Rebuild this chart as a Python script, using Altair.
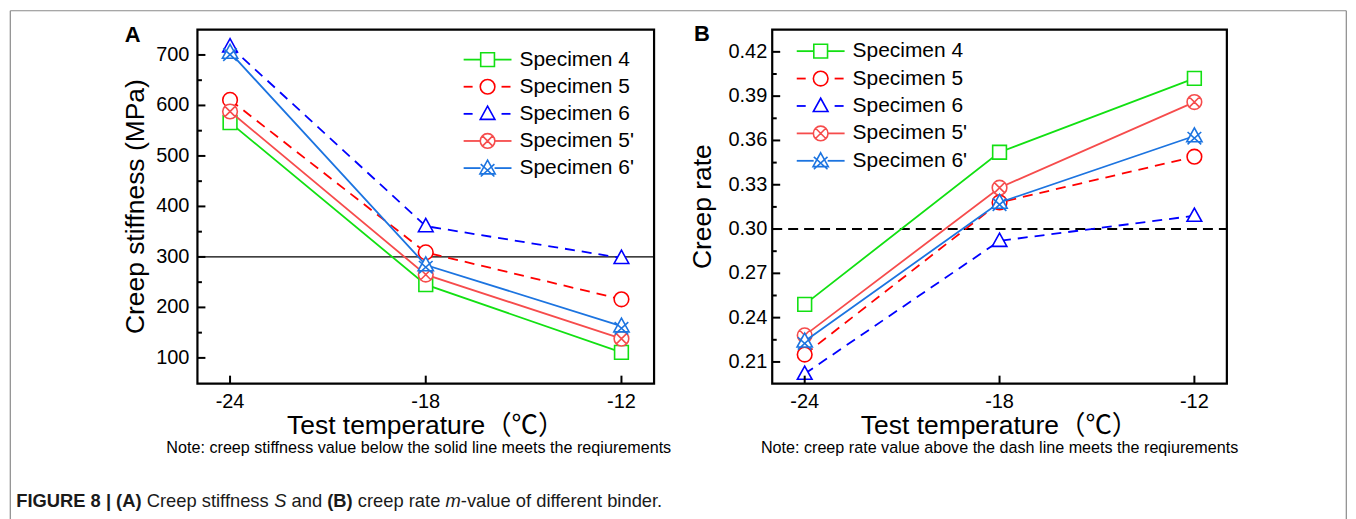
import altair as alt
import pandas as pd

# ---------------- data ----------------
temps = [-24, -18, -12]
series = ["Specimen 4", "Specimen 5", "Specimen 6", "Specimen 5'", "Specimen 6'"]

stiff_4 = [566, 245, 111]
stiff_5 = [611, 309, 216]
stiff_6 = [717, 361, 298]
stiff_5p = [588, 265, 138]
stiff_6p = [705, 284, 163]

rate_4 = [0.249, 0.352, 0.402]
rate_5 = [0.215, 0.318, 0.349]
rate_6 = [0.202, 0.292, 0.309]
rate_5p = [0.228, 0.328, 0.386]
rate_6p = [0.224, 0.318, 0.363]

stiff_ticks = [100, 200, 300, 400, 500, 600, 700]
stiff_labels = ["100", "200", "300", "400", "500", "600", "700"]
stiff_minor = [150, 250, 350, 450, 550, 650]
rate_ticks = [0.21, 0.24, 0.27, 0.30, 0.33, 0.36, 0.39, 0.42]
rate_labels = ["0.21", "0.24", "0.27", "0.30", "0.33", "0.36", "0.39", "0.42"]
rate_minor = [0.225, 0.255, 0.285, 0.315, 0.345, 0.375, 0.405]
temp_labels = ["-24", "-18", "-12"]

stiff_limit = [300]
rate_limit = [0.30]

# ---------------- styles ----------------
FONT = "Liberation Sans, Arial, Noto Sans CJK SC"
colors = ["#12E012", "#FF0000", "#0000FF", "#F64C4C", "#1C74E0"]
dashes = [None, [10, 7], [10, 7], None, None]
P_SQUARE = "M-1,-1H1V1H-1Z"
P_CIRCLE = "M1,0A1,1,0,1,1,-1,0A1,1,0,1,1,1,0Z"
P_TRI = "M0,-1L0.95,0.72L-0.95,0.72Z"
P_CIRCX = P_CIRCLE + "M-0.7,-0.7L0.7,0.7M-0.7,0.7L0.7,-0.7"
P_TRIX = "M0,-1L0.95,0.72L-0.95,0.72ZM-0.85,-0.5L0.85,1.05M0.85,-0.5L-0.85,1.05"
shapes = [P_SQUARE, P_CIRCLE, P_TRI, P_CIRCX, P_TRIX]
sizes = [190, 215, 240, 215, 260]

W_A, W_B, H = 458, 456, 355
LEFT_A = 195.7  # page x of panel A plot area


def txt(text, x, y, size, weight="normal", style="normal", align="center",
        angle=0, color="black"):
    kw = dict(font=FONT, fontSize=size, fontWeight=weight, fontStyle=style,
              align=align, baseline="middle", color=color)
    if angle:
        kw["angle"] = angle
    return alt.Chart(pd.DataFrame({"a": [0]})).mark_text(**kw).encode(
        x=alt.value(x), y=alt.value(y), text=alt.value(text))


def seg(x1, x2, y1, y2, color, width, dash=None):
    kw = dict(color=color, strokeWidth=width)
    if dash:
        kw["strokeDash"] = dash
    return alt.Chart(pd.DataFrame({"a": [0]})).mark_rule(**kw).encode(
        x=alt.value(x1), x2=alt.value(x2), y=alt.value(y1), y2=alt.value(y2))


def panel(values, ydom, majors, labels, minors, limit, limit_dash, limit_w,
          width, leg_x, leg_y0, leg_dy, letter, letter_xy, ytitle, ytitle_x,
          note, note_x, labelpad):
    xs = alt.Scale(domain=[-25, -11], nice=False, zero=False)
    ys = alt.Scale(domain=ydom, nice=False, zero=False)
    layers = []
    # limit line
    lkw = dict(color="black", strokeWidth=limit_w)
    if limit_dash:
        lkw["strokeDash"] = limit_dash
    layers.append(alt.Chart(pd.DataFrame({"v": limit})).mark_rule(**lkw).encode(
        y=alt.Y("v:Q", scale=ys, axis=None), x=alt.value(0), x2=alt.value(width)))
    # series
    for i, name in enumerate(series):
        df = pd.DataFrame({"t": temps, "v": values[i]})
        lk = dict(color=colors[i], strokeWidth=1.8)
        if dashes[i]:
            lk["strokeDash"] = dashes[i]
        layers.append(alt.Chart(df).mark_line(**lk).encode(
            x=alt.X("t:Q", scale=xs, axis=None),
            y=alt.Y("v:Q", scale=ys, axis=None)))
        layers.append(alt.Chart(df).mark_point(
            shape=shapes[i], size=sizes[i], filled=True, fill="white",
            fillOpacity=1, stroke=colors[i], strokeWidth=1.6, opacity=1).encode(
            x=alt.X("t:Q", scale=xs, axis=None),
            y=alt.Y("v:Q", scale=ys, axis=None)))
    # inward ticks
    layers.append(alt.Chart(pd.DataFrame({"v": majors})).mark_rule(
        color="black", strokeWidth=2).encode(
        y=alt.Y("v:Q", scale=ys, axis=None), x=alt.value(0), x2=alt.value(8)))
    layers.append(alt.Chart(pd.DataFrame({"v": minors})).mark_rule(
        color="black", strokeWidth=2).encode(
        y=alt.Y("v:Q", scale=ys, axis=None), x=alt.value(0), x2=alt.value(4.5)))
    layers.append(alt.Chart(pd.DataFrame({"t": temps})).mark_rule(
        color="black", strokeWidth=2).encode(
        x=alt.X("t:Q", scale=xs, axis=None), y=alt.value(H), y2=alt.value(H - 8)))
    # tick labels
    layers.append(alt.Chart(pd.DataFrame({"v": majors, "lab": labels})).mark_text(
        font=FONT, fontSize=20, align="right", baseline="middle",
        color="black").encode(
        y=alt.Y("v:Q", scale=ys, axis=None), x=alt.value(-labelpad),
        text="lab:N"))
    layers.append(alt.Chart(pd.DataFrame({"t": temps, "lab": temp_labels})).mark_text(
        font=FONT, fontSize=20, align="center", baseline="middle",
        color="black").encode(
        x=alt.X("t:Q", scale=xs, axis=None), y=alt.value(H + 18),
        text="lab:N"))
    # legend
    for i, name in enumerate(series):
        yy = leg_y0 + i * leg_dy
        if dashes[i]:
            layers.append(seg(leg_x - 24, leg_x - 15, yy, yy, colors[i], 1.8))
            layers.append(seg(leg_x + 14, leg_x + 23, yy, yy, colors[i], 1.8))
        else:
            layers.append(seg(leg_x - 24, leg_x - 7, yy, yy, colors[i], 1.8))
            layers.append(seg(leg_x + 7, leg_x + 24, yy, yy, colors[i], 1.8))
        layers.append(alt.Chart(pd.DataFrame({"a": [0]})).mark_point(
            shape=shapes[i], size=sizes[i], filled=True, fill="white",
            fillOpacity=1, stroke=colors[i], strokeWidth=1.6, opacity=1).encode(
            x=alt.value(leg_x), y=alt.value(yy)))
        layers.append(txt(name, leg_x + 32, yy, 21, align="left"))
    # texts
    layers.append(txt(letter, letter_xy[0], letter_xy[1], 22, weight="bold"))
    layers.append(txt(ytitle, ytitle_x, H / 2, 26.5, angle=270))
    layers.append(txt("Test temperature（℃）", width / 2, 398, 26.5))
    layers.append(txt(note, note_x, 420, 16.2))
    return layers


layers_a = panel([stiff_4, stiff_5, stiff_6, stiff_5p, stiff_6p], [49, 750],
                 stiff_ticks, stiff_labels, stiff_minor, stiff_limit, None, 1.2,
                 W_A, 291, 30, 27.2, "A", (-65, 5.5), "Creep stiffness (MPa)",
                 -62,
                 "Note: creep stiffness value below the solid line meets the reqiurements",
                 222, 8)

# figure frame (left, top, right) in panel A coordinates
GRAY = "#8a8a8a"
layers_a.append(seg(8 - LEFT_A, 8 - LEFT_A, -19, 491, GRAY, 1.2))
layers_a.append(seg(8 - LEFT_A, 1348 - LEFT_A, -19, -19, GRAY, 1.2))
layers_a.append(seg(1348 - LEFT_A, 1348 - LEFT_A, -19, 491, GRAY, 1.2))

# caption: rich text laid out with approximate Arial advance widths
REG = {"C": .722, "r": .333, "e": .556, "p": .556, "s": .5, "t": .278,
       "i": .222, "f": .278, "n": .556, "a": .556, "d": .556, "m": .833,
       "-": .333, "v": .5, "l": .222, "u": .556, "o": .556, "b": .556,
       ".": .278, " ": .278, "c": .5, "S": .667}
BOLD = {"F": .611, "I": .278, "G": .778, "U": .722, "R": .722, "E": .667,
        " ": .278, "8": .556, "|": .28, "(": .333, "A": .722, ")": .333,
        "B": .722}
CAP_SIZE = 18.4
caption = [("FIGURE 8 | (A) ", "bold", "normal"),
           ("Creep stiffness ", "normal", "normal"),
           ("S", "normal", "italic"),
           (" and ", "normal", "normal"),
           ("(B) ", "bold", "normal"),
           ("creep rate ", "normal", "normal"),
           ("m", "normal", "italic"),
           ("-value of different binder.", "normal", "normal")]
cx = 14 - LEFT_A
for text, w, s in caption:
    table = BOLD if w == "bold" else REG
    lead = len(text) - len(text.lstrip(" "))
    layers_a.append(txt(text.strip(" "), cx + lead * table[" "] * CAP_SIZE, 473,
                        CAP_SIZE, weight=w, style=s, align="left",
                        color="#1a1a1a"))
    cx += sum(table.get(ch, .556) for ch in text) * CAP_SIZE

layers_b = panel([rate_4, rate_5, rate_6, rate_5p, rate_6p], [0.1953, 0.435],
                 rate_ticks, rate_labels, rate_minor, rate_limit, [10, 6], 2,
                 W_B, 48.6, 21.5, 27.5, "B", (-70.5, 4.5), "Creep rate", -69,
                 "Note: creep rate value above the dash line meets the reqiurements",
                 228, 5)

chart_a = alt.layer(*layers_a).properties(width=W_A, height=H)
chart_b = alt.layer(*layers_b).properties(width=W_B, height=H)

chart = alt.HConcatChart(hconcat=[chart_a, chart_b], spacing=118.5,
                         bounds="flush", padding=0).configure_view(
    stroke="black", strokeWidth=2.2)

chart.save("out.html", embed_options={"renderer": "svg", "actions": False})
